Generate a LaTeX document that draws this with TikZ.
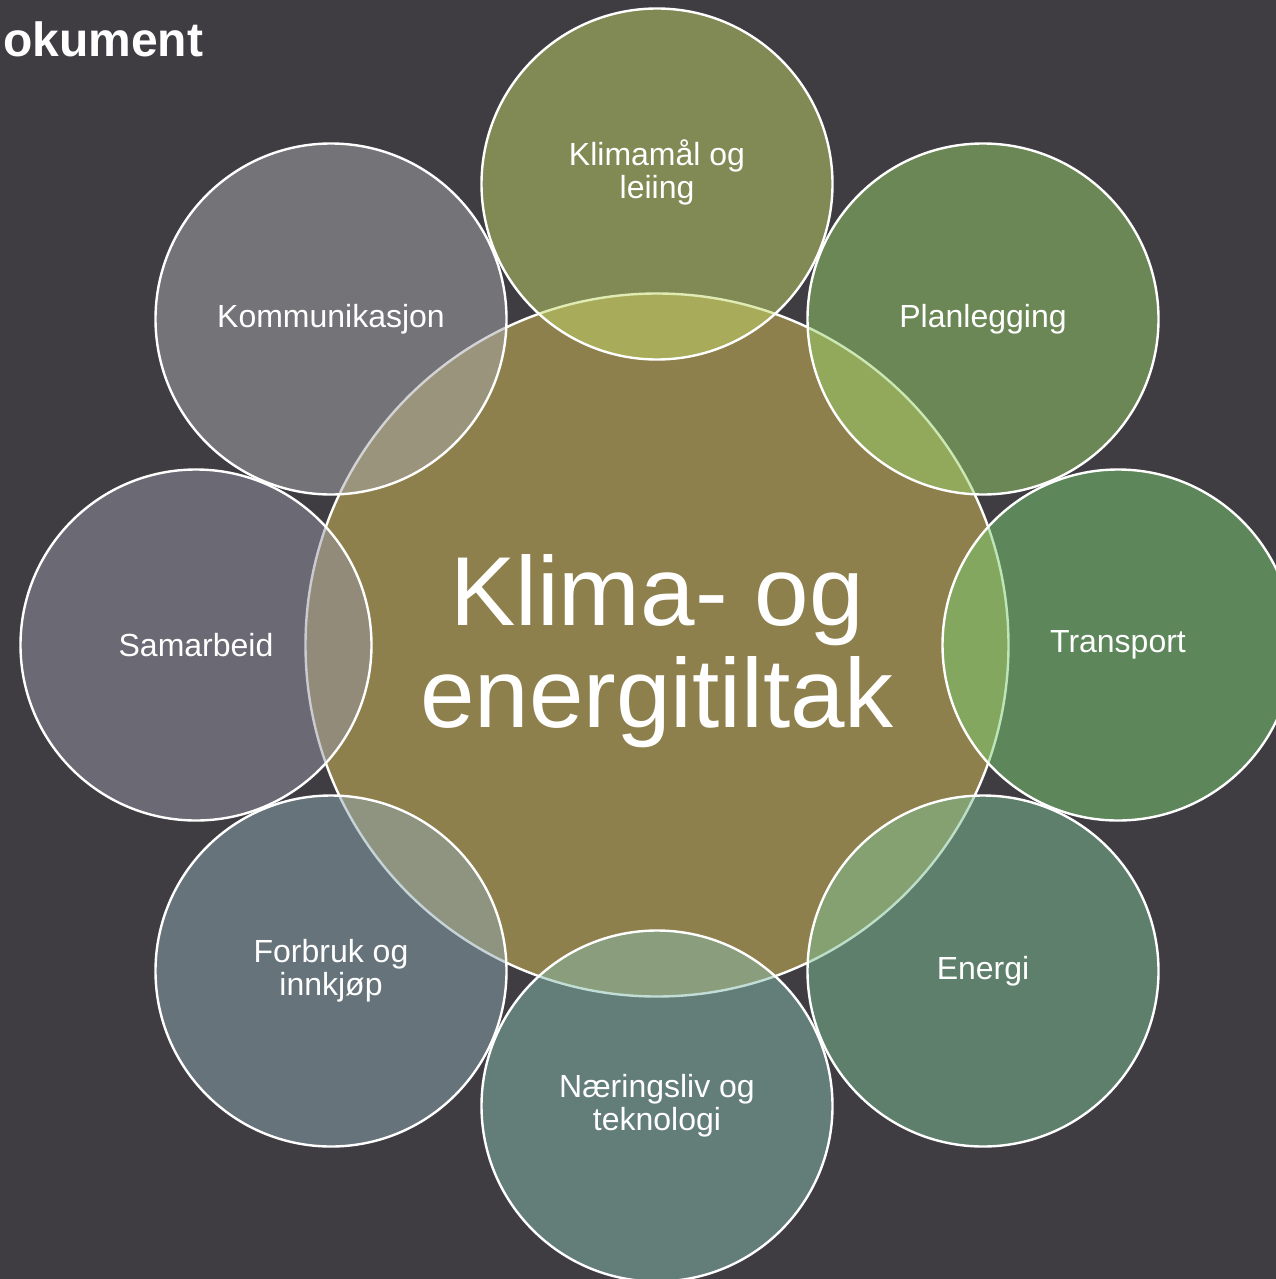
\documentclass[tikz,border=0pt]{standalone}
\usepackage{fontspec}
\setmainfont{Liberation Sans}
\usetikzlibrary{shapes}

\definecolor{bgdark}{RGB}{63,61,66}
\definecolor{hubcol}{RGB}{142,128,76}
\definecolor{cklima}{RGB}{195,215,104}
\definecolor{cplan}{RGB}{151,209,106}
\definecolor{ctrans}{RGB}{123,207,114}
\definecolor{cenergi}{RGB}{125,193,150}
\definecolor{cnaering}{RGB}{135,189,174}
\definecolor{cforbruk}{RGB}{143,169,178}
\definecolor{csamarb}{RGB}{151,151,166}
\definecolor{ckomm}{RGB}{169,169,174}

\begin{document}
\begin{tikzpicture}[x=1pt, y=1pt,
  hub/.style={draw=white, line width=2.4pt, circle, minimum size=703pt, inner sep=0, fill=hubcol},
  ring/.style={draw=white, line width=2.4pt, circle, minimum size=351pt, inner sep=0, fill opacity=0.5, text opacity=1, text=white, align=center, font=\fontsize{32}{33}\selectfont},
  lbl/.style={text=white, align=center, inner sep=0, font=\fontsize{32}{33}\selectfont}]
\useasboundingbox (0,-1279) rectangle (1276,0);
\clip (0,-1279) rectangle (1276,0);
\fill[bgdark] (0,-1279) rectangle (1276,0);
% Title
\node[anchor=base west, inner sep=0, text=white, font=\bfseries\fontsize{48}{48}\selectfont] (title) at (3,-57) {okument};
% Centre
\node[hub] (hub) at (657,-645) {};
\node[text=white, align=center, inner sep=0, font=\fontsize{98}{102}\selectfont] (hubtxt) at (657,-651) {Klima- og\\energitiltak};
% Outer circles
\node[ring, fill=cklima] (klima) at (657,-184) {};
\node[ring, fill=cplan] (plan) at (983,-319) {Planlegging};
\node[ring, fill=ctrans] (transport) at (1118,-645) {Transport};
\node[ring, fill=cenergi] (energi) at (983,-971) {Energi};
\node[ring, fill=cnaering] (naering) at (657,-1106) {Næringsliv og\\teknologi};
\node[ring, fill=cforbruk] (forbruk) at (331,-971) {Forbruk og\\innkjøp};
\node[ring, fill=csamarb] (samarbeid) at (196,-645) {Samarbeid};
\node[ring, fill=ckomm] (komm) at (331,-319) {Kommunikasjon};
% Label of top circle
\node[lbl] (klimatxt) at (657,-172) {Klimamål og\\leiing};
\end{tikzpicture}
\end{document}
